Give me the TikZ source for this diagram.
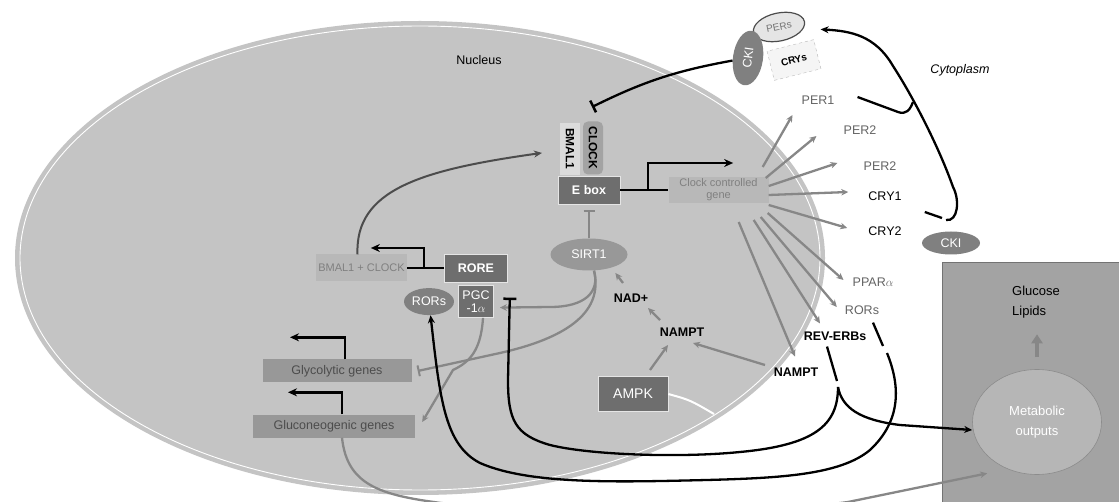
\documentclass[tikz,border=0pt]{standalone}
\usepackage{fontspec}
\setmainfont{Liberation Sans}
\usepackage{tikz}
\usetikzlibrary{arrows.meta,positioning,shapes.geometric,calc}

\definecolor{nucleusgray}{RGB}{196,196,196}
\definecolor{boxdark}{RGB}{110,110,110}
\definecolor{boxmid}{RGB}{152,152,152}
\definecolor{boxpale}{RGB}{184,184,184}
\definecolor{ovalgray}{RGB}{128,128,128}
\definecolor{linegray}{RGB}{135,135,135}
\definecolor{labelgray}{RGB}{100,100,100}
\definecolor{metagray}{RGB}{163,163,163}
\definecolor{outputgray}{RGB}{182,182,182}

\tikzset{
  labelfont/.style={font=\fontsize{12.5}{14}\selectfont},
  boldlabel/.style={font=\fontsize{12.5}{14}\selectfont\bfseries},
  darkbox/.style={rectangle, fill=boxdark, draw=white!80!gray, line width=0.6pt, text=white, inner sep=0pt},
  genebox/.style={rectangle, fill=boxmid, text=black!70, minimum height=23pt, inner sep=0pt},
  palebox/.style={rectangle, fill=boxpale, text=black!50, inner sep=0pt, font=\fontsize{11}{12}\selectfont},
  graytag/.style={ellipse, fill=ovalgray, text=white, inner sep=0pt},
  grayarrow/.style={draw=linegray, line width=2.3pt, -{Stealth[length=7pt,width=6.5pt]}},
  grayblock/.style={draw=linegray, line width=2.3pt, -{Bar[width=11pt,line width=2pt]}},
  blackline/.style={draw=black, line width=2.3pt},
  blackarrow/.style={blackline, -{Stealth[length=8pt,width=7pt]}},
  blackblock/.style={blackline, -{Bar[width=13pt,line width=2.5pt]}},
  promoter/.style={draw=black, line width=2.5pt, -{Stealth[length=9pt,width=8pt]}}
}

\begin{document}
\begin{tikzpicture}[x=1pt, y=-1pt, every node/.style={labelfont, inner sep=1pt}]
    \useasboundingbox (0,0) rectangle (1119,502);
    \fill[white] (0,0) rectangle (1119,502);

    %Compartments
    \fill[nucleusgray] (420,258) ellipse [x radius=405pt, y radius=237pt];
    \draw[white, line width=0.9pt] (420,258) ellipse [x radius=400pt, y radius=232pt];
    \node[rectangle, fill=metagray, draw=black!55, line width=0.6pt, anchor=north west, minimum width=190pt, minimum height=250pt] (metabolic_box) at (942,262) {};
    \node (nucleus_label) at (479,60) {Nucleus};
    \node[font=\fontsize{12.5}{14}\selectfont\itshape] (cytoplasm_label) at (960,70) {Cytoplasm};

    %Nodes
    \node[darkbox, minimum width=62pt, minimum height=28pt, boldlabel] (e_box) at (589,190) {E box};
    \node[rectangle, fill=black!14, rotate=-90, minimum width=52pt, minimum height=20pt, inner sep=0pt, font=\fontsize{12}{14}\selectfont\bfseries] (bmal1) at (570,149) {BMAL1};
    \node[rectangle, rounded corners=5pt, fill=black!36, rotate=-90, minimum width=53pt, minimum height=20pt, inner sep=0pt, font=\fontsize{12}{14}\selectfont\bfseries] (clock) at (593,148) {CLOCK};
    \node[palebox, minimum width=100pt, minimum height=26pt, align=center, right=48pt of e_box] (ccg) {Clock controlled\\gene};
    \node[graytag, fill=boxmid, minimum width=77pt, minimum height=32pt, below=34pt of e_box] (sirt1) {SIRT1};
    \node[darkbox, minimum width=63pt, minimum height=28pt, boldlabel] (rore) at (476,268) {RORE};
    \node[palebox, minimum width=91pt, minimum height=27pt, left=37pt of rore] (bmal_clock) {BMAL1 + CLOCK};
    \node[darkbox, minimum width=35pt, minimum height=32pt, align=center, font=\fontsize{12.5}{13}\selectfont, below=3pt of rore] (pgc) {PGC\\-1$\alpha$};
    \node[graytag, minimum width=50pt, minimum height=27pt, left=4pt of pgc] (rors_nuc) {RORs};
    \node[genebox, minimum width=149pt] (glyco) at (337,371) {Glycolytic genes};
    \node[genebox, minimum width=162pt] (gluco) at (334,426) {Gluconeogenic genes};

    \node[boldlabel] (nad) at (631,298) {NAD+};
    \node[boldlabel] (nampt_nuc) at (682,332) {NAMPT};
    \node[darkbox, minimum width=70pt, minimum height=35pt, font=\fontsize{14}{16}\selectfont] (ampk) at (633,394) {AMPK};

    \node[text=labelgray] (per1)   at (818,100) {PER1};
    \node[text=labelgray] (per2_a) at (860,130) {PER2};
    \node[text=labelgray] (per2_b) at (880,166) {PER2};
    \node                 (cry1)   at (885,196) {CRY1};
    \node                 (cry2)   at (885,231) {CRY2};
    \node[text=labelgray] (ppar)   at (873,282) {PPAR$\alpha$};
    \node[text=labelgray] (rors_cyto) at (862,310) {RORs};
    \node[boldlabel] (rev_erbs)   at (835,336) {REV-ERBs};
    \node[boldlabel] (nampt_cyto) at (796,372) {NAMPT};
    \node[graytag, minimum width=58pt, minimum height=23pt] (cki_free) at (951,243) {CKI};

    \node[rectangle, fill=gray!8, draw=gray!55, dashed, thin, rotate=14, minimum width=48pt, minimum height=30pt, font=\fontsize{10}{12}\selectfont\bfseries] (crys) at (794,60) {CRYs};
    \node[ellipse, fill=gray!20, draw=black!70, line width=1.2pt, rotate=12, minimum width=52pt, minimum height=28pt, text=black!55, font=\fontsize{10}{12}\selectfont] (pers) at (779,27) {PERs};
    \node[graytag, rotate=82, minimum width=55pt, minimum height=30pt] (cki_bound) at (748,58) {CKI};

    \node[align=left, font=\fontsize{13}{20}\selectfont] (glucose_lipids) at (1036,302) {Glucose\\Lipids};
    \node[ellipse, fill=outputgray, draw=black!45, line width=0.6pt, minimum width=129pt, minimum height=105pt, align=center, text=white, font=\fontsize{13}{20}\selectfont] (meta_out) at (1037,422) {Metabolic\\outputs};

    \coordinate (clock_block) at (592,107);
    \coordinate (rev_gap)     at (837,381);
    \coordinate (rev_split)   at (838,387);
    \coordinate (ror_gap)     at (883,346);
    \coordinate (ror_resume)  at (887,353);
    \coordinate (cry2_gap)    at (942,218);
    \coordinate (cry2_resume) at (946,220);
    \coordinate (per1_join)   at (913,102);

    %Lines
    \draw[white, line width=2pt] (ampk.east) .. controls (690,400) .. (714,414);

    % promoters
    \draw[blackline] (e_box.east) -- (ccg.west);
    \draw[promoter] ($(e_box.east)!0.58!(ccg.west)$) -- ++(0,-27) -- ++(85,0);
    \draw[blackline] (rore.west) -- (bmal_clock.east);
    \draw[promoter] ($(rore.west)!0.55!(bmal_clock.east)$) -- ++(0,-20) -- ++(-53,0);
    \draw[promoter] ([xshift=8pt]glyco.north) -- ++(0,-22) -- ++(-55,0);
    \draw[promoter] ([xshift=8pt]gluco.north) -- ++(0,-22) -- ++(-54,0);

    % clock loop
    \draw[blackblock] (cki_bound) to[bend right=8] (clock_block);
    \draw[draw=black!70, line width=2pt, -{Stealth[length=8pt,width=7pt]}, shorten >=18pt] ([xshift=-4pt]bmal_clock.north) .. controls (355,190) and (420,170) .. (bmal1);
    \draw[grayblock, shorten >=6pt] (sirt1) -- (e_box);

    % sensors
    \draw[grayarrow] ([shift={(-8,-15)}]nad.center) -- ([shift={(-1,7)}]sirt1.south east);
    \draw[grayarrow] ([shift={(-22,-12)}]nampt_nuc.center) -- ([shift={(17,10)}]nad.center);
    \draw[grayarrow] ([shift={(17,-24)}]ampk.center) -- ([shift={(-14,13)}]nampt_nuc.center);
    \draw[grayarrow] ([shift={(-31,-7)}]nampt_cyto.center) -- ([shift={(11,11)}]nampt_nuc.center);

    % SIRT1 and PGC-1a targets
    \draw[grayarrow] ([xshift=5pt]sirt1.south) .. controls (600,292) and (585,307) .. (550,307) -- ([shift={(6,6)}]pgc.east);
    \draw[grayblock] ([xshift=5pt]sirt1.south) .. controls (602,305) and (580,335) .. (500,353) -- ([xshift=6pt]glyco.east);
    \draw[grayarrow] ([xshift=7pt]pgc.south) .. controls (481,350) and (470,362) .. (453,370) -- ([shift={(7,-4)}]gluco.east);
    \draw[grayarrow] ([xshift=8pt]gluco.south) .. controls (347,485) and (380,495) .. (441,503) .. controls (600,518) and (760,514) .. (848,502) -- ([shift={(-4,14)}]meta_out.south west);

    % REV-ERB and ROR loops
    \draw[blackline] ([shift={(-8,5)}]rev_erbs.south) -- (rev_gap);
    \draw[blackblock] (rev_split) .. controls (838,425) and (815,445) .. (740,452) .. controls (680,458) and (590,455) .. (550,445) .. controls (515,435) and (508,420) .. (508,380) -- ([shift={(16,-4)}]pgc.east);
    \draw[blackarrow] (rev_split) .. controls (842,408) and (860,420) .. (900,425) -- ([yshift=-8pt]meta_out.west);
    \draw[blackline] ([shift={(11,7)}]rors_cyto.south) -- (ror_gap);
    \draw[blackarrow] (ror_resume) .. controls (900,385) and (902,420) .. (870,450) .. controls (840,475) and (780,478) .. (707,480) .. controls (620,482) and (530,485) .. (480,463) .. controls (445,445) and (440,400) .. (rors_nuc);

    % cytoplasmic feedback
    \draw[blackline] ([shift={(22,-19)}]cry2.east) -- (cry2_gap);
    \draw[blackarrow, shorten >=17pt] (cry2_resume) .. controls (958,222) and (960,200) .. (953,187) .. controls (940,150) and (915,100) .. (893,66) .. controls (875,35) and (850,31) .. (pers);
    \draw[blackline] ([shift={(22,-3)}]per1.east) -- (898,112) .. controls (906,115) and (910,110) .. (per1_join);

    % clock controlled outputs
    \draw[grayarrow] ([shift={(-6,-23)}]ccg.east) -- ([shift={(-8,15)}]per1.west);
    \draw[grayarrow] ([shift={(-3,-12)}]ccg.east) -- ([shift={(-26,6)}]per2_a.west);
    \draw[grayarrow] ([shift={(0,-4)}]ccg.east)   -- ([shift={(-25,-3)}]per2_b.west);
    \draw[grayarrow] ([shift={(0,5)}]ccg.east)    -- ([shift={(-19,-4)}]cry1.west);
    \draw[grayarrow] ([shift={(0,15)}]ccg.east)   -- ([shift={(-20,-3)}]cry2.west);
    \draw[grayarrow] ([shift={(-1,23)}]ccg.east)  -- ([shift={(-8,-2)}]ppar.west);
    \draw[grayarrow] ([shift={(-8,27)}]ccg.east)  -- ([shift={(-7,-3)}]rors_cyto.west);
    \draw[grayarrow] ([shift={(-15,30)}]ccg.east) -- ([shift={(-15,-7)}]rev_erbs.north);
    \draw[grayarrow] ([shift={(-30,32)}]ccg.east) -- ([shift={(-1,-10)}]nampt_cyto.north);

    % metabolic output
    \draw[draw=linegray, line width=4pt, -{Triangle[length=9pt,width=11pt]}, shorten <=12pt, shorten >=15pt] (meta_out.north) -- (meta_out.north |- glucose_lipids.south);
\end{tikzpicture}
\end{document}
